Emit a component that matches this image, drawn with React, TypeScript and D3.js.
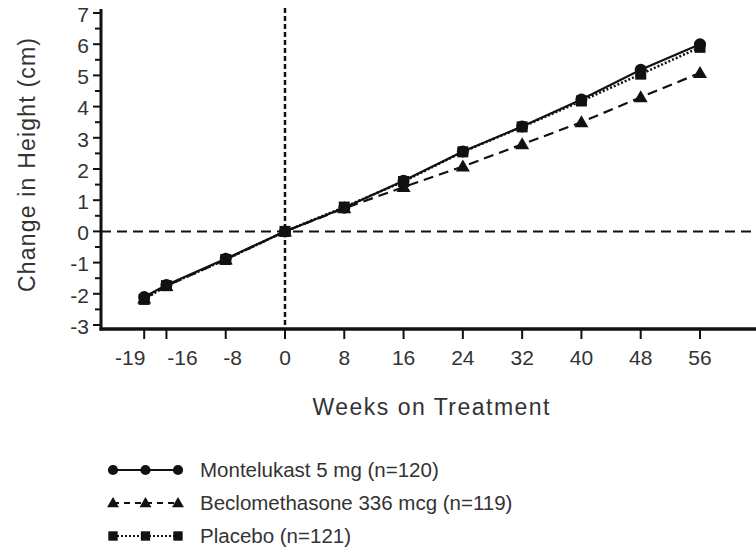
import { useEffect, useRef } from 'react';
import * as d3 from 'd3';

const weeks = [-19, -16, -8, 0, 8, 16, 24, 32, 40, 48, 56];
const montelukast = [-2.1, -1.72, -0.88, 0, 0.76, 1.62, 2.56, 3.36, 4.23, 5.18, 6.0];
const beclomethasone = [-2.15, -1.75, -0.9, 0, 0.74, 1.42, 2.08, 2.79, 3.5, 4.3, 5.08];
const placebo = [-2.18, -1.74, -0.9, 0, 0.78, 1.6, 2.55, 3.35, 4.18, 5.04, 5.9];
const xTicks = [-19, -16, -8, 0, 8, 16, 24, 32, 40, 48, 56];
const yTicks = [-3, -2, -1, 0, 1, 2, 3, 4, 5, 6, 7];
const seriesNames = [
  'Montelukast 5 mg (n=120)',
  'Beclomethasone 336 mcg (n=119)',
  'Placebo (n=121)',
];

type Marker = 'circle' | 'triangle' | 'square';

export default function App() {
  const svgRef = useRef<SVGSVGElement>(null);

  useEffect(() => {
    if (!svgRef.current) return;
    const svg = d3.select(svgRef.current);
    svg.selectAll('*').remove();

    const W = 756;
    const H = 552;
    const font = '"Liberation Sans", Arial, sans-serif';
    const ink = '#111';
    const textInk = '#333';

    // scales
    const x = d3.scaleLinear().domain([0, 56]).range([285, 700]);
    const y = d3.scaleLinear().domain([-3, 7]).range([325, 13]);
    const left = 101;
    const bottom = 329;

    svg.append('rect').attr('width', W).attr('height', H).attr('fill', '#fff');

    // reference lines at 0
    svg
      .append('line')
      .attr('x1', left)
      .attr('x2', W)
      .attr('y1', y(0))
      .attr('y2', y(0))
      .attr('stroke', ink)
      .attr('stroke-width', 2)
      .attr('stroke-dasharray', '10,6');

    svg
      .append('line')
      .attr('x1', x(0))
      .attr('x2', x(0))
      .attr('y1', 8)
      .attr('y2', bottom)
      .attr('stroke', ink)
      .attr('stroke-width', 2.5)
      .attr('stroke-dasharray', '5,3');

    // axes
    svg
      .append('line')
      .attr('x1', left)
      .attr('x2', left)
      .attr('y1', 9)
      .attr('y2', bottom + 1.5)
      .attr('stroke', ink)
      .attr('stroke-width', 3);
    svg
      .append('line')
      .attr('x1', left - 1.5)
      .attr('x2', W)
      .attr('y1', bottom)
      .attr('y2', bottom)
      .attr('stroke', ink)
      .attr('stroke-width', 3.5);

    // y ticks (major + half-step minor)
    const yMinor = d3.range(-2.5, 7, 1);
    svg
      .append('g')
      .selectAll('line')
      .data(yMinor)
      .enter()
      .append('line')
      .attr('x1', left - 6)
      .attr('x2', left)
      .attr('y1', (d) => y(d))
      .attr('y2', (d) => y(d))
      .attr('stroke', ink)
      .attr('stroke-width', 2);

    const yt = svg.append('g').selectAll('g').data(yTicks).enter().append('g');
    yt.append('line')
      .attr('x1', left - 8)
      .attr('x2', left)
      .attr('y1', (d) => y(d))
      .attr('y2', (d) => y(d))
      .attr('stroke', ink)
      .attr('stroke-width', 2);
    yt.append('text')
      .attr('x', left - 12)
      .attr('y', (d) => y(d))
      .attr('dy', '0.42em')
      .attr('text-anchor', 'end')
      .attr('font-family', font)
      .attr('font-size', 21)
      .attr('fill', textInk)
      .text((d) => d);

    // x ticks; the two leftmost labels are pushed apart so they don't collide
    const labelShift: Record<number, number> = { [-19]: -14, [-16]: 16, [-8]: 7 };
    const xt = svg.append('g').selectAll('g').data(xTicks).enter().append('g');
    xt.append('line')
      .attr('x1', (d) => x(d))
      .attr('x2', (d) => x(d))
      .attr('y1', bottom)
      .attr('y2', bottom + 10)
      .attr('stroke', ink)
      .attr('stroke-width', 2);
    xt.append('text')
      .attr('x', (d) => x(d) + (labelShift[d] || 0))
      .attr('y', 365)
      .attr('text-anchor', 'middle')
      .attr('font-family', font)
      .attr('font-size', 21)
      .attr('fill', textInk)
      .text((d) => d);

    // axis titles
    svg
      .append('text')
      .attr('x', 431)
      .attr('y', 415)
      .attr('text-anchor', 'middle')
      .attr('font-family', font)
      .attr('font-size', 23)
      .attr('textLength', 237)
      .attr('lengthAdjust', 'spacing')
      .attr('fill', textInk)
      .text('Weeks on Treatment');
    svg
      .append('text')
      .attr('transform', 'translate(35,165) rotate(-90)')
      .attr('text-anchor', 'middle')
      .attr('font-family', font)
      .attr('font-size', 23)
      .attr('textLength', 254)
      .attr('lengthAdjust', 'spacing')
      .attr('fill', textInk)
      .text('Change in Height (cm)');

    const series: { values: number[]; dash: string | null; marker: Marker; width: number }[] = [
      { values: placebo, dash: '2,2', marker: 'square', width: 2.5 },
      { values: beclomethasone, dash: '10,6', marker: 'triangle', width: 2.2 },
      { values: montelukast, dash: null, marker: 'circle', width: 2.2 },
    ];

    const drawMarker = (g: any, m: Marker, cx: number, cy: number, s: number) => {
      if (m === 'circle') {
        g.append('circle').attr('cx', cx).attr('cy', cy).attr('r', 6 * s).attr('fill', ink);
      } else if (m === 'square') {
        g.append('rect')
          .attr('x', cx - 5.5 * s)
          .attr('y', cy - 5.5 * s)
          .attr('width', 11 * s)
          .attr('height', 11 * s)
          .attr('fill', ink);
      } else {
        g.append('path')
          .attr('d', `M${cx},${cy - 7 * s}L${cx + 7 * s},${cy + 5 * s}L${cx - 7 * s},${cy + 5 * s}Z`)
          .attr('fill', ink);
      }
    };

    const line = d3
      .line<number>()
      .x((_, i) => x(weeks[i]))
      .y((d) => y(d));

    series.forEach((s) => {
      const g = svg.append('g');
      const p = g
        .append('path')
        .attr('d', line(s.values))
        .attr('fill', 'none')
        .attr('stroke', ink)
        .attr('stroke-width', s.width);
      if (s.dash) p.attr('stroke-dasharray', s.dash);
      s.values.forEach((v, i) => drawMarker(g, s.marker, x(weeks[i]), y(v), 1));
    });

    // legend
    const legendRows: { name: string; dash: string | null; marker: Marker }[] = [
      { name: seriesNames[0], dash: null, marker: 'circle' },
      { name: seriesNames[1], dash: '6,5', marker: 'triangle' },
      { name: seriesNames[2], dash: '2,2', marker: 'square' },
    ];
    const legendY = d3.scalePoint<number>().domain([0, 1, 2]).range([470, 536]);
    const legendX = d3.scalePoint<number>().domain([0, 1, 2]).range([113, 178]);
    legendRows.forEach((r, i) => {
      const g = svg.append('g');
      const cy = legendY(i) as number;
      const l = g
        .append('line')
        .attr('x1', legendX(0) as number)
        .attr('x2', legendX(2) as number)
        .attr('y1', cy)
        .attr('y2', cy)
        .attr('stroke', ink)
        .attr('stroke-width', 2);
      if (r.dash) l.attr('stroke-dasharray', r.dash);
      [0, 1, 2].forEach((k) => drawMarker(g, r.marker, legendX(k) as number, cy, 0.85));
      g.append('text')
        .attr('x', 200)
        .attr('y', cy)
        .attr('dy', '0.36em')
        .attr('font-family', font)
        .attr('font-size', 20.5)
        .attr('fill', textInk)
        .text(r.name);
    });
  }, []);

  return (
    <svg
      ref={svgRef}
      width={756}
      height={552}
      style={{ position: 'absolute', left: 0, top: 0, display: 'block' }}
    />
  );
}
